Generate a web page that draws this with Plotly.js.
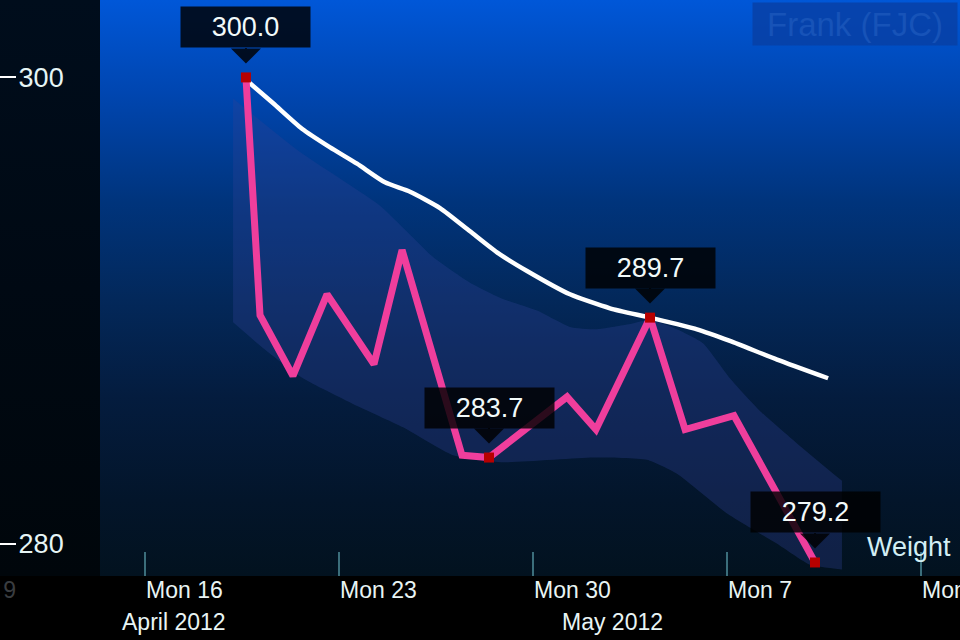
<!DOCTYPE html>
<html>
<head>
<meta charset="utf-8">
<script src="https://cdn.plot.ly/plotly-3.0.1.min.js"></script>
<style>
html, body { margin: 0; padding: 0; background: #000; }
#chart { width: 960px; height: 640px; }
</style>
</head>
<body>
<div id="chart"></div>
<script>
// ---- data ----
const weighDates = ['2012-04-19 15:40', '2012-04-20 03:50', '2012-04-21 08:20', '2012-04-22 13:50',
  '2012-04-24 06:30', '2012-04-25 06:50', '2012-04-27 10:40', '2012-04-28 10:05',
  '2012-05-01 05:40', '2012-05-02 06:40', '2012-05-04 05:30', '2012-05-05 11:50',
  '2012-05-07 06:10', '2012-05-10 04:20'];
const weights = [300.0, 289.8, 287.2, 290.7, 287.7, 292.6, 283.8, 283.7, 286.3, 284.9, 289.7, 284.9, 285.5, 279.2];

const trendDates = ['2012-04-19 15:40', '2012-04-20 15:00', '2012-04-21 16:10', '2012-04-22 16:30',
  '2012-04-23 15:50', '2012-04-24 16:00', '2012-04-25 13:40', '2012-04-26 15:40', '2012-04-27 17:40',
  '2012-04-28 17:00', '2012-04-29 19:00', '2012-05-01 08:10', '2012-05-02 18:50', '2012-05-04 05:30',
  '2012-05-05 22:10', '2012-05-07 02:40', '2012-05-08 19:30', '2012-05-10 15:40'];
const trendValues = [299.9, 298.9, 297.8, 297.0, 296.3, 295.5, 295.1, 294.4, 293.4, 292.5, 291.7,
  290.7, 290.1, 289.7, 289.2, 288.7, 287.9, 287.1];

const bandUpperDates = ['2012-04-19 04:30', '2012-04-21 14:30', '2012-04-24 11:40', '2012-04-26 09:40',
  '2012-04-27 17:40', '2012-04-28 22:10', '2012-04-30 03:40', '2012-05-01 08:10', '2012-05-02 07:40',
  '2012-05-03 09:30', '2012-05-04 05:30', '2012-05-05 04:50', '2012-05-06 03:20', '2012-05-07 02:40',
  '2012-05-08 04:40', '2012-05-09 15:20', '2012-05-11 03:40'];
const bandUpper = [299.1, 296.8, 294.5, 292.3, 291.2, 290.5, 290.0, 289.3, 289.2, 289.4, 289.6, 289.2,
  288.6, 287.1, 285.7, 284.2, 282.7];
const bandLowerDates = ['2012-04-19 04:30', '2012-04-20 06:20', '2012-04-21 17:00', '2012-04-23 12:20',
  '2012-04-25 07:40', '2012-04-27 03:00', '2012-04-28 22:10', '2012-05-02 04:10', '2012-05-04 02:50',
  '2012-05-05 04:50', '2012-05-07 00:10', '2012-05-08 19:30', '2012-05-10 00:00', '2012-05-11 03:40'];
const bandLower = [289.5, 288.4, 287.1, 286.0, 285.0, 283.8, 283.5, 283.7, 283.6, 283.0, 281.3, 280.0,
  279.1, 278.9];

const calloutIndex = [0, 7, 10, 13];

const xTickDates = ['2012-04-09', '2012-04-16', '2012-04-23', '2012-04-30', '2012-05-07', '2012-05-14'];
const xTickLabels = ['Mon 9', 'Mon 16', 'Mon 23', 'Mon 30', 'Mon 7', 'Mon 14'];
const monthDates = ['2012-04-17 01:00', '2012-05-02 21:00'];
const monthLabels = ['April 2012', 'May 2012'];
const yTicks = [280, 300];

const seriesName = 'Weight';
const personName = 'Frank (FJC)';

// ---- view ----
const xRange = ['2012-04-10 18:43', '2012-05-15 09:52'];
const yRange = [278.62, 303.32];
const FONT = 'Liberation Sans, Arial, sans-serif';

const bgSvg = "<svg xmlns='http://www.w3.org/2000/svg' width='960' height='576' viewBox='0 0 960 576' preserveAspectRatio='none'>" +
  "<defs><linearGradient id='g' x1='0' y1='0' x2='0' y2='1'>" +
  "<stop offset='0' stop-color='#0057d8'/><stop offset='0.17' stop-color='#0045ae'/>" +
  "<stop offset='0.35' stop-color='#00347c'/><stop offset='0.52' stop-color='#03285a'/>" +
  "<stop offset='0.69' stop-color='#041c3e'/><stop offset='0.87' stop-color='#03152a'/>" +
  "<stop offset='1' stop-color='#02121f'/></linearGradient>" +
  "<linearGradient id='p' x1='0' y1='0' x2='0' y2='1'>" +
  "<stop offset='0' stop-color='#000d1c'/><stop offset='0.5' stop-color='#000913'/>" +
  "<stop offset='1' stop-color='#00060b'/></linearGradient></defs>" +
  "<rect x='100' y='0' width='860' height='576' fill='url(#g)'/>" +
  "<rect x='0' y='0' width='100' height='576' fill='url(#p)'/></svg>";

const traces = [
  { x: bandLowerDates, y: bandLower, type: 'scatter', mode: 'lines',
    line: { width: 0, shape: 'spline', smoothing: 0.5, color: 'rgba(0,0,0,0)' }, hoverinfo: 'skip', showlegend: false },
  { x: bandUpperDates, y: bandUpper, type: 'scatter', mode: 'lines', fill: 'tonexty',
    fillcolor: 'rgba(48,66,150,0.32)',
    line: { width: 0, shape: 'spline', smoothing: 0.5, color: 'rgba(0,0,0,0)' }, hoverinfo: 'skip', showlegend: false },
  { x: trendDates, y: trendValues, type: 'scatter', mode: 'lines',
    line: { width: 4.5, color: '#ffffff', shape: 'spline', smoothing: 0.6 }, showlegend: false },
  { x: weighDates, y: weights, type: 'scatter', mode: 'lines',
    line: { width: 7, color: '#ef3e9c' }, showlegend: false },
  { x: calloutIndex.map(i => weighDates[i]), y: calloutIndex.map(i => weights[i]),
    type: 'scatter', mode: 'markers',
    marker: { symbol: 'square', size: 10, color: '#b70000', line: { width: 0 } }, showlegend: false }
];

const annotations = [];
calloutIndex.forEach(i => {
  annotations.push({
    x: weighDates[i], y: weights[i], xref: 'x', yref: 'y',
    text: weights[i].toFixed(1), showarrow: true, ax: 0, ay: -50,
    arrowhead: 1, arrowsize: 2.5, arrowwidth: 2, arrowcolor: 'rgba(0,0,0,0.82)', standoff: 14,
    bgcolor: 'rgba(0,0,0,0.82)', width: 129, height: 40, borderpad: 0,
    font: { family: FONT, size: 27, color: '#f2fafa' }
  });
});

const x0 = new Date(xRange[0].replace(' ', 'T')).getTime();
const x1 = new Date(xRange[1].replace(' ', 'T')).getTime();
xTickDates.forEach((d, k) => {
  const t = new Date(d + 'T00:00').getTime();
  const frac = (t - x0) / (x1 - x0);
  const inView = frac >= 0 && frac <= 1;
  const underPanel = frac * 960 < 100;
  annotations.push({
    x: inView ? d : frac, xref: inView ? 'x' : 'paper',
    y: 0, yref: 'paper', yanchor: 'middle', yshift: -13.5, xanchor: 'left', xshift: -1,
    text: xTickLabels[k], showarrow: false,
    font: { family: FONT, size: 23, color: underPanel ? '#3a3d40' : '#e8f4f4' }
  });
});
monthDates.forEach((d, k) => {
  annotations.push({
    x: d, xref: 'x', y: 0, yref: 'paper', yanchor: 'middle', yshift: -45.5, xanchor: 'center',
    text: monthLabels[k], showarrow: false,
    font: { family: FONT, size: 23, color: '#e8f4f4' }
  });
});
annotations.push({
  x: 953 / 960, xref: 'paper', y: (576 - 547.3) / 576, yref: 'paper', xanchor: 'right', yanchor: 'middle',
  text: seriesName, showarrow: false, font: { family: FONT, size: 27, color: '#d2eef4' }
});
annotations.push({
  x: 855 / 960, xref: 'paper', y: 1 - 24 / 576, yref: 'paper', xanchor: 'center', yanchor: 'middle',
  text: personName, showarrow: false, width: 202, height: 40, bgcolor: 'rgba(8,62,160,0.75)',
  font: { family: FONT, size: 33, color: '#1753b8' }
});

const layout = {
  width: 960, height: 640,
  margin: { l: 0, r: 0, t: 0, b: 64, pad: 0 },
  paper_bgcolor: '#000000',
  plot_bgcolor: 'rgba(0,0,0,0)',
  showlegend: false,
  font: { family: FONT },
  images: [{
    source: 'data:image/svg+xml;charset=utf-8,' + encodeURIComponent(bgSvg),
    xref: 'paper', yref: 'paper', x: 0, y: 1, sizex: 1, sizey: 1,
    xanchor: 'left', yanchor: 'top', sizing: 'stretch', layer: 'below'
  }],
  xaxis: {
    type: 'date', range: xRange, showgrid: false, zeroline: false, showline: false,
    ticks: 'inside', ticklen: 24, tickwidth: 2, tickcolor: '#3b6e7b',
    tick0: '2012-04-16', dtick: 7 * 86400000, showticklabels: false, fixedrange: true
  },
  yaxis: {
    range: yRange, showgrid: false, zeroline: false, showline: false,
    tickvals: yTicks, ticks: 'inside', ticklen: 16, tickwidth: 2, tickcolor: '#ffffff',
    ticklabelposition: 'inside', ticklabelstandoff: 5,
    tickfont: { family: FONT, size: 27, color: '#e6f5f5' },
    fixedrange: true
  },
  annotations: annotations
};

Plotly.newPlot('chart', traces, layout, { displayModeBar: false, staticPlot: true });
</script>
</body>
</html>
